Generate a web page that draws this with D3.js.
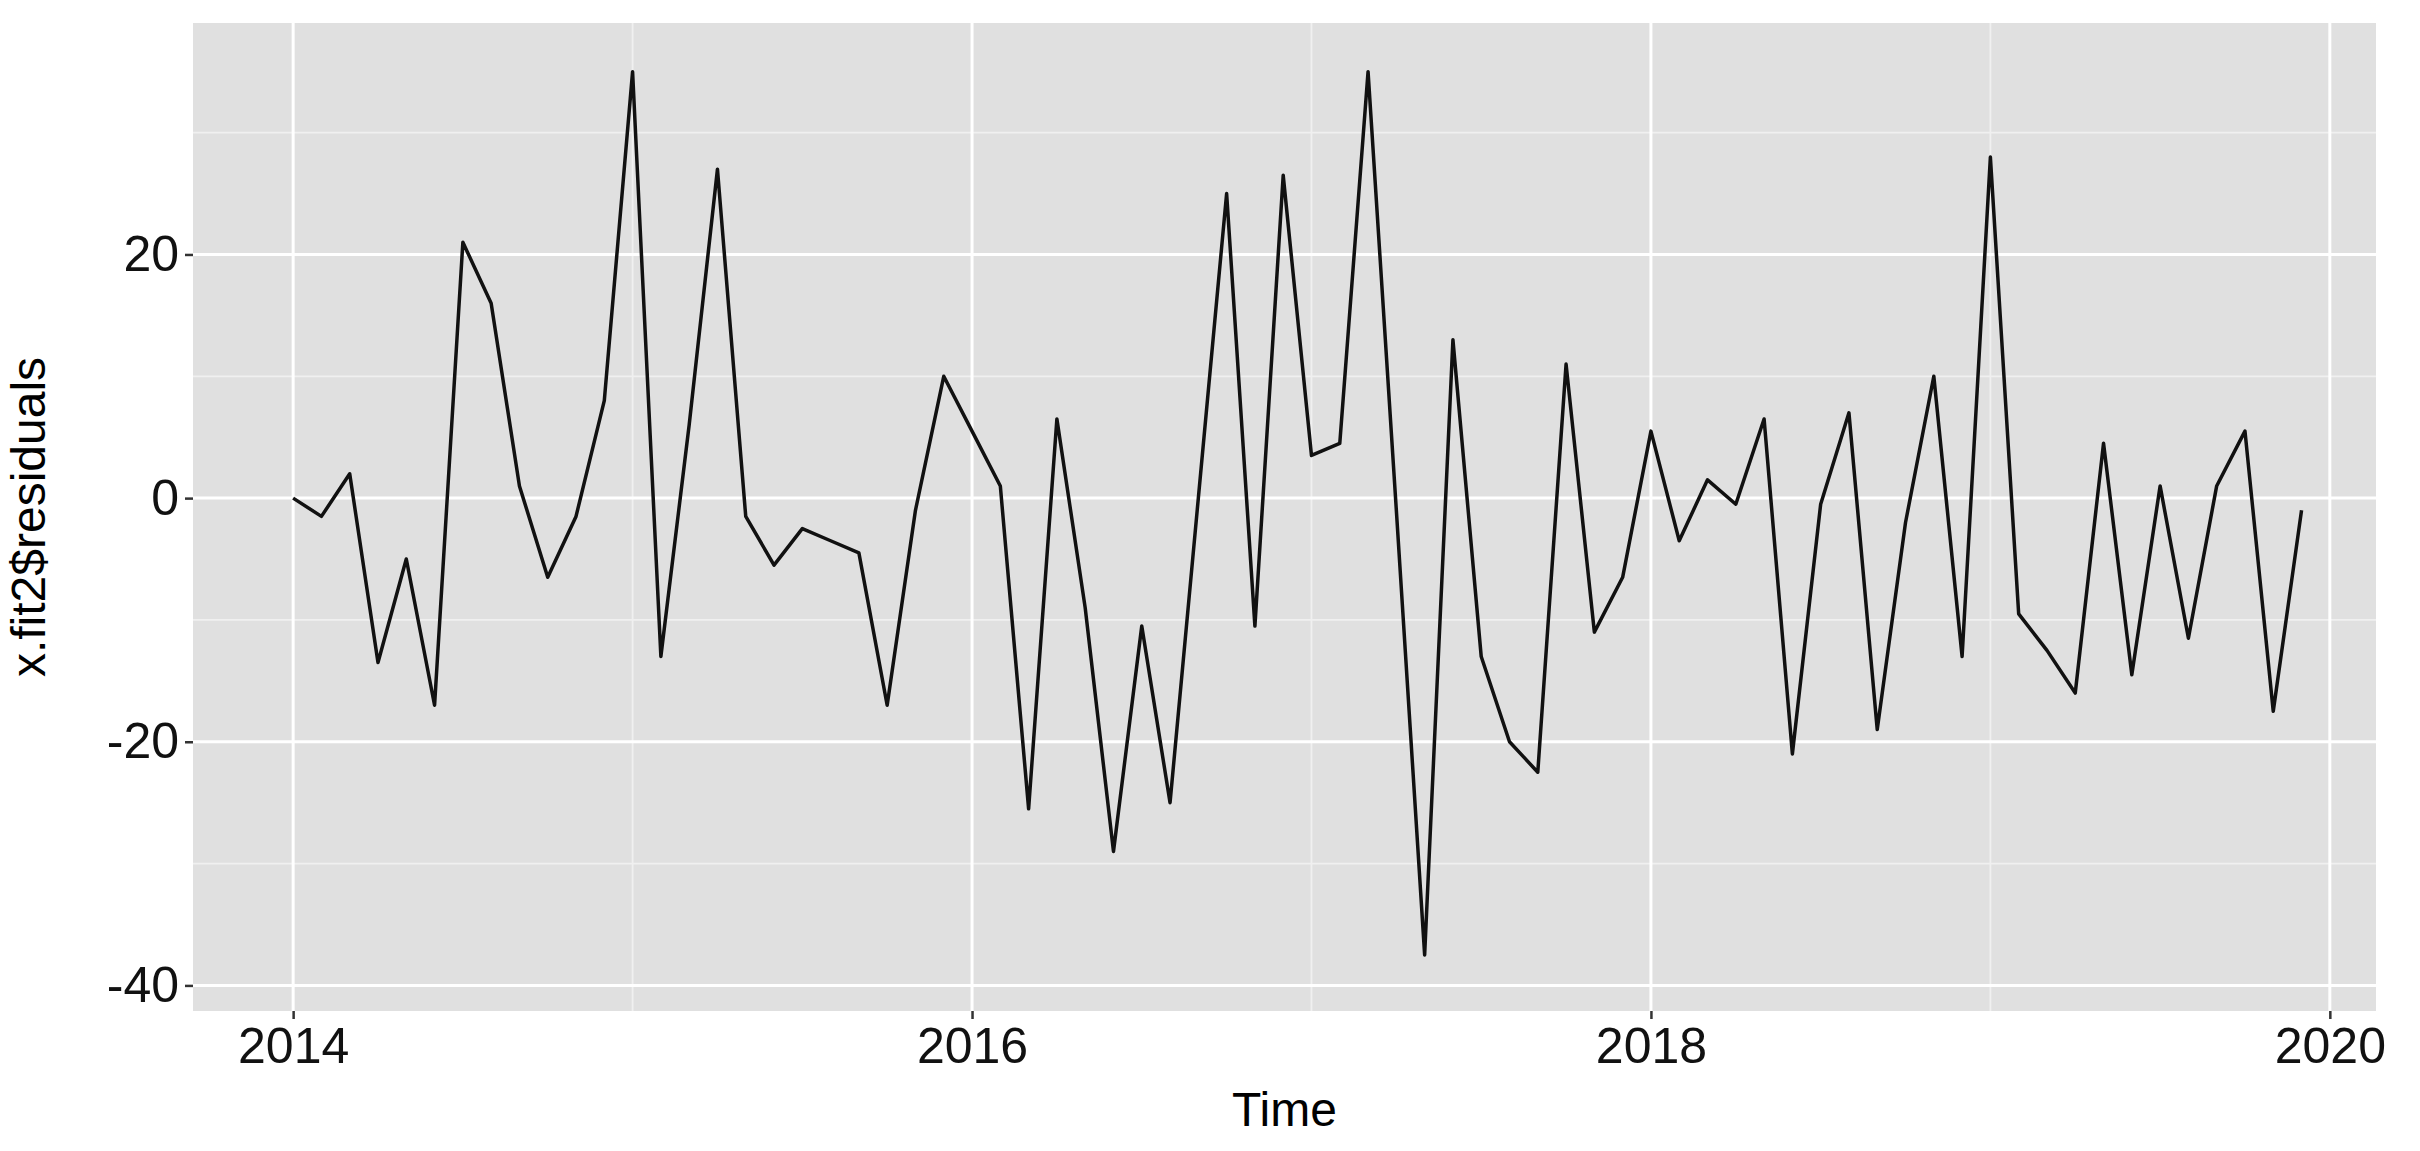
<!DOCTYPE html>
<html>
<head>
<meta charset="utf-8">
<script src="https://cdn.jsdelivr.net/npm/d3@7"></script>
<style>
  body { margin: 0; background: #fff; }
  text { font-family: "Liberation Sans", Arial, sans-serif; }
</style>
</head>
<body>
<svg id="chart"></svg>
<script>
// monthly residuals, Jan 2014 .. Dec 2019
const startYear = 2014
const residuals = [
  0, -1.5, 2, -13.5, -5, -17, 21, 16, 1, -6.5, -1.5, 8,
  35, -13, 6, 27, -1.5, -5.5, -2.5, -3.5, -4.5, -17, -1, 10,
  5.5, 1, -25.5, 6.5, -9, -29, -10.5, -25, 0, 25, -10.5, 26.5,
  3.5, 4.5, 35, -1, -37.5, 13, -13, -20, -22.5, 11, -11, -6.5,
  5.5, -3.5, 1.5, -0.5, 6.5, -21, -0.5, 7, -19, -2, 10, -13,
  28, -9.5, -12.5, -16, 4.5, -14.5, 1, -11.5, 1, 5.5, -17.5, -1
]
const xTicks = [2014, 2016, 2018, 2020]
const xMinor = [2015, 2017, 2019]
const yTicks = [-40, -20, 0, 20]
const yMinor = [-30, -10, 10, 30]

const W = 2420, H = 1151
const M = { left: 193, right: 44, top: 23, bottom: 140 }
const w = W - M.left - M.right, h = H - M.top - M.bottom

const svg = d3.select("#chart").attr("width", W).attr("height", H)
const g = svg.append("g").attr("transform", `translate(${M.left},${M.top})`)

const x = d3.scaleLinear().domain([2013.705, 2020.136]).range([0, w])
const y = d3.scaleLinear().domain([-42.1, 39]).range([h, 0])

g.append("rect").attr("width", w).attr("height", h).attr("fill", "#e0e0e0")

g.selectAll(".ymin").data(yMinor).join("line")
  .attr("x1", 0).attr("x2", w).attr("y1", d => y(d)).attr("y2", d => y(d))
  .attr("stroke", "#f0f0f0").attr("stroke-width", 1.8)
g.selectAll(".xmin").data(xMinor).join("line")
  .attr("y1", 0).attr("y2", h).attr("x1", d => x(d)).attr("x2", d => x(d))
  .attr("stroke", "#f0f0f0").attr("stroke-width", 1.8)
g.selectAll(".ymaj").data(yTicks).join("line")
  .attr("x1", 0).attr("x2", w).attr("y1", d => y(d)).attr("y2", d => y(d))
  .attr("stroke", "#fff").attr("stroke-width", 3)
g.selectAll(".xmaj").data(xTicks).join("line")
  .attr("y1", 0).attr("y2", h).attr("x1", d => x(d)).attr("x2", d => x(d))
  .attr("stroke", "#fff").attr("stroke-width", 3)

const pts = residuals.map((v, i) => ({ t: startYear + i / 12, v }))
const line = d3.line().x(d => x(d.t)).y(d => y(d.v))
g.append("path").attr("d", line(pts)).attr("fill", "none")
  .attr("stroke", "#111").attr("stroke-width", 3.5).attr("stroke-linejoin", "round")

const xAxis = g.append("g").attr("transform", `translate(0,${h})`)
  .call(d3.axisBottom(x).tickValues(xTicks).tickFormat(d3.format("d")).tickSize(8).tickPadding(8))
const yAxis = g.append("g")
  .call(d3.axisLeft(y).tickValues(yTicks).tickFormat(d => d < 0 ? "-" + Math.abs(d) : d).tickSize(8).tickPadding(6))
;[xAxis, yAxis].forEach(a => {
  a.select(".domain").remove()
  a.selectAll("line").attr("stroke", "#333").attr("stroke-width", 2.5)
  a.selectAll("text").attr("font-size", 50).attr("fill", "#111")
    .style("font-family", "'Liberation Sans', Arial, sans-serif")
})

svg.append("text").attr("x", M.left + w / 2).attr("y", H - 25)
  .attr("text-anchor", "middle").attr("font-size", 48).text("Time")
svg.append("text").attr("transform", `translate(45,${M.top + h / 2}) rotate(-90)`)
  .attr("text-anchor", "middle").attr("font-size", 48).text("x.fit2$residuals")
</script>
</body>
</html>
